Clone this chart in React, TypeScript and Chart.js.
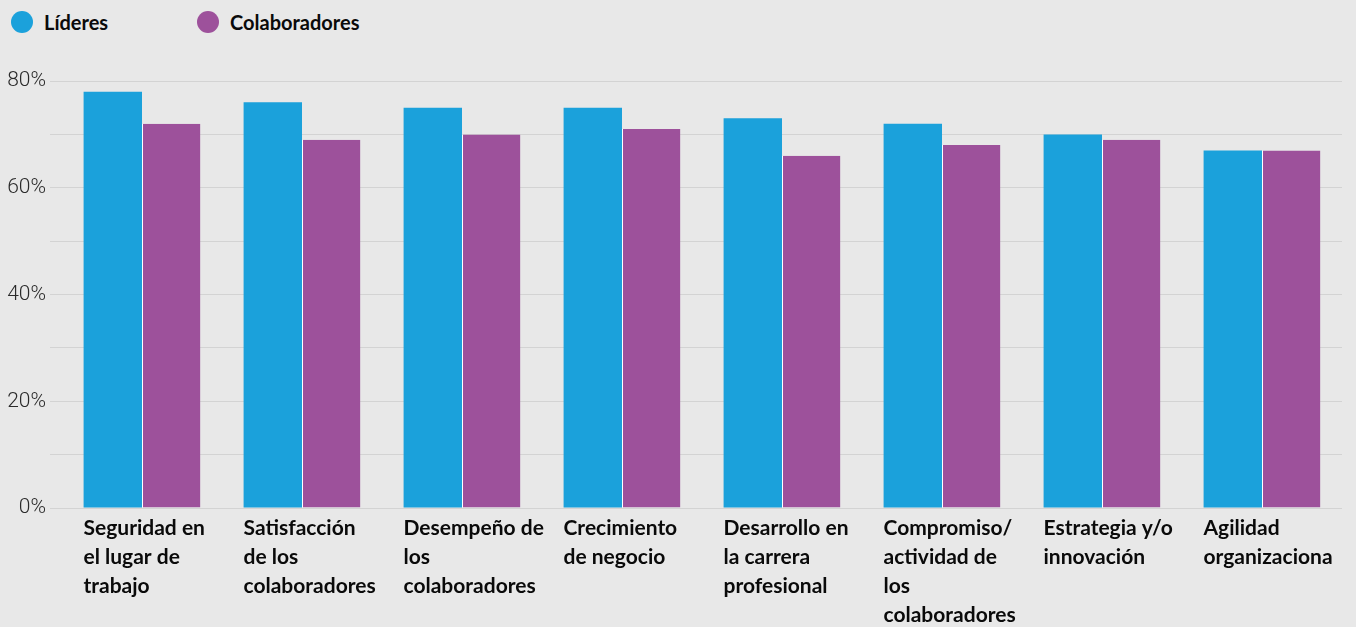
import React, { useEffect, useRef } from "react";
import { Chart, registerables } from "chart.js";

Chart.register(...registerables);

const categories: string[][] = [
  ["Seguridad en", "el lugar de", "trabajo"],
  ["Satisfacción", "de los", "colaboradores"],
  ["Desempeño de", "los", "colaboradores"],
  ["Crecimiento", "de negocio"],
  ["Desarrollo en", "la carrera", "profesional"],
  ["Compromiso/", "actividad de", "los", "colaboradores"],
  ["Estrategia y/o", "innovación"],
  ["Agilidad", "organizaciona"],
];
const seriesNames = ["Líderes", "Colaboradores"];
const lideres = [78, 76, 75, 75, 73, 72, 70, 67];
const colaboradores = [72, 69, 70, 71, 66, 68, 69, 67];
const yMin = 0;
const yMax = 80;
const yGridStep = 10;
const yLabelStep = 20;

const BLUE = "#1ba1db";
const PURPLE = "#9d519b";
const BG = "#e8e8e8";
const LABEL_FONT = "Lato, 'Noto Sans', sans-serif";
const TICK_FONT = "Roboto, 'Noto Sans', sans-serif";

export default function App() {
  const ref = useRef<HTMLCanvasElement | null>(null);

  useEffect(() => {
    const canvas = ref.current;
    if (!canvas) return;
    const chart = new Chart(canvas, {
      type: "bar",
      data: {
        labels: categories,
        datasets: [
          {
            label: seriesNames[0],
            data: lideres,
            backgroundColor: BLUE,
            borderWidth: 0,
            categoryPercentage: 0.73,
            barPercentage: 1,
          },
          {
            label: seriesNames[1],
            data: colaboradores,
            backgroundColor: PURPLE,
            borderColor: "#ffffff",
            borderWidth: { left: 1, top: 0, right: 0, bottom: 0 },
            borderSkipped: false,
            categoryPercentage: 0.73,
            barPercentage: 1,
          },
        ],
      },
      options: {
        responsive: false,
        animation: false,
        layout: { padding: { top: 81, right: 14, left: 0, bottom: -9 } },
        plugins: {
          legend: { display: false },
          tooltip: { enabled: false },
        },
        scales: {
          x: {
            grid: { display: false, drawTicks: false },
            border: { display: false },
            ticks: {
              autoSkip: false,
              maxRotation: 0,
              minRotation: 0,
              align: "start",
              labelOffset: -58.5,
              padding: 6,
              color: "#0a0a0a",
              font: { family: LABEL_FONT, size: 21, weight: "bold", lineHeight: 1.38 },
            },
            afterFit: (s: any) => {
              s.paddingLeft = 0;
              s.paddingRight = 0;
            },
          },
          y: {
            min: yMin,
            max: yMax,
            border: { display: false },
            grid: { color: "#d3d3d3", lineWidth: 1, drawTicks: true, tickLength: 12 },
            ticks: {
              stepSize: yGridStep,
              padding: 4,
              color: "#2a2a2a",
              font: { family: TICK_FONT, size: 21, weight: 300 },
              callback: (v: any) => (Number(v) % yLabelStep === 0 ? `${v}%` : ""),
            },
            afterFit: (s: any) => {
              s.width = 62;
            },
          },
        },
      },
    });
    return () => chart.destroy();
  }, []);

  const legendItem = (name: string, color: string, left: number) => (
    <div
      key={name}
      style={{
        position: "absolute",
        left,
        top: 11,
        height: 22,
        display: "flex",
        alignItems: "center",
      }}
    >
      <span
        style={{
          width: 22,
          height: 22,
          borderRadius: "50%",
          background: color,
          display: "inline-block",
        }}
      />
      <span
        style={{
          marginLeft: 11,
          fontFamily: LABEL_FONT,
          fontWeight: "bold",
          fontSize: 20,
          color: "#0a0a0a",
          lineHeight: "22px",
        }}
      >
        {name}
      </span>
    </div>
  );

  return (
    <div
      style={{
        position: "fixed",
        left: 0,
        top: 0,
        width: 1356,
        height: 627,
        background: BG,
        overflow: "hidden",
      }}
    >
      {legendItem(seriesNames[0], BLUE, 11)}
      {legendItem(seriesNames[1], PURPLE, 197)}
      <canvas
        ref={ref}
        width={1356}
        height={627}
        style={{ position: "absolute", left: 0, top: 0, width: 1356, height: 627 }}
      />
    </div>
  );
}
